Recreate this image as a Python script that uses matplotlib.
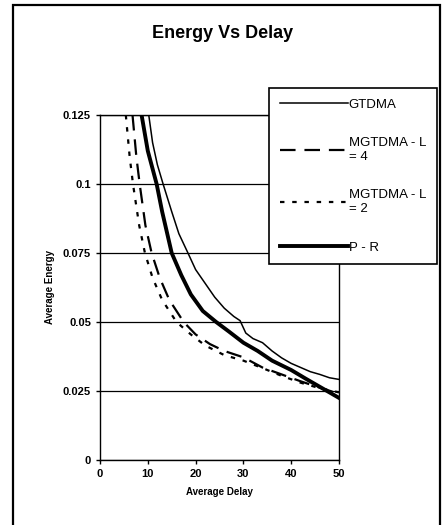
import matplotlib.pyplot as plt
from matplotlib.patches import Rectangle

plt.rcParams['font.family'] = ['Liberation Sans', 'DejaVu Sans']

gt_x = [10.2, 11, 12, 13.2, 15, 16.5, 18.4, 20, 22, 24, 26, 28, 29.3, 30.5, 32, 34, 36, 38, 40, 42, 44, 46, 48, 50]
gt_y = [0.125, 0.115, 0.107, 0.1, 0.09, 0.082, 0.075, 0.069, 0.064, 0.059, 0.055, 0.052, 0.0505, 0.046,
        0.044, 0.0425, 0.0395, 0.037, 0.035, 0.0335, 0.032, 0.031, 0.0298, 0.0292]

l4_x = [6.8, 7.6, 8.3, 9.5, 10.8, 12.5, 14.5, 17.5, 20, 23, 26, 30, 34, 38, 42, 46, 50]
l4_y = [0.125, 0.11, 0.1, 0.085, 0.075, 0.066, 0.058, 0.05, 0.0455, 0.042, 0.0395, 0.0372, 0.0335,
        0.031, 0.0285, 0.0262, 0.024]

l2_x = [5.4, 6.2, 6.9, 8.2, 9.4, 11, 13, 16, 19, 22, 26, 30, 34, 38, 42, 46, 50]
l2_y = [0.125, 0.11, 0.1, 0.085, 0.075, 0.066, 0.058, 0.05, 0.0455, 0.0415, 0.038, 0.036, 0.0333,
        0.0305, 0.028, 0.026, 0.0245]

pr_x = [8.7, 10, 11.85, 13, 15, 17, 19, 21.5, 24.3, 27, 30, 33, 36, 40, 43, 46, 48, 50]
pr_y = [0.125, 0.112, 0.1, 0.09, 0.075, 0.067, 0.06, 0.054, 0.05, 0.0465, 0.0425, 0.0395, 0.036,
        0.0326, 0.0295, 0.0265, 0.0245, 0.0225]

fig = plt.figure(figsize=(4.46, 5.25), dpi=100)
ax = fig.add_axes([100 / 446, 1 - 460 / 525, 239 / 446, 345 / 525])

ax.plot(gt_x, gt_y, color='black', lw=1.1, label='GTDMA')
ax.plot(l4_x, l4_y, color='black', lw=1.6, dashes=(7, 4), label='MGTDMA - L\n= 4')
ax.plot(l2_x, l2_y, color='black', lw=1.6, dashes=(2, 3.5), label='MGTDMA - L\n= 2')
ax.plot(pr_x, pr_y, color='black', lw=2.8, label='P - R')

ax.set_xlim(0, 50)
ax.set_ylim(0, 0.125)
ax.set_xticks([0, 10, 20, 30, 40, 50])
ax.set_yticks([0, 0.025, 0.05, 0.075, 0.1, 0.125])
ax.set_yticklabels(['0', '0.025', '0.05', '0.075', '0.1', '0.125'])
ax.yaxis.grid(True, color='black', lw=0.9)
ax.set_axisbelow(True)
ax.tick_params(labelsize=8, length=3, width=1, direction='out')
for lab in ax.get_xticklabels() + ax.get_yticklabels():
    lab.set_fontweight('bold')
for s in ax.spines.values():
    s.set_linewidth(1.0)
ax.set_xlabel('Average Delay', fontsize=7, fontweight='bold', labelpad=6)
ax.set_ylabel('Average Energy', fontsize=7, fontweight='bold', labelpad=6)

fig.text(0.5, 1 - 33 / 525, 'Energy Vs Delay', ha='center', va='center',
         fontsize=13, fontweight='bold')

leg = ax.legend(loc='upper left', bbox_to_anchor=(269 / 446, 1 - 88 / 525),
                bbox_transform=fig.transFigure, fontsize=9.5, handlelength=5.2,
                labelspacing=2.0, fancybox=False, edgecolor='black',
                framealpha=1, borderpad=0.8, handletextpad=0.05, borderaxespad=0)
leg.get_frame().set_linewidth(1.2)
leg.set_zorder(5)

fig.add_artist(Rectangle((13 / 446, -0.05), 427 / 446, 1.05 - 5 / 525, transform=fig.transFigure,
                         fill=False, lw=1.6, edgecolor='black'))

fig.savefig('out.png', dpi=100)
